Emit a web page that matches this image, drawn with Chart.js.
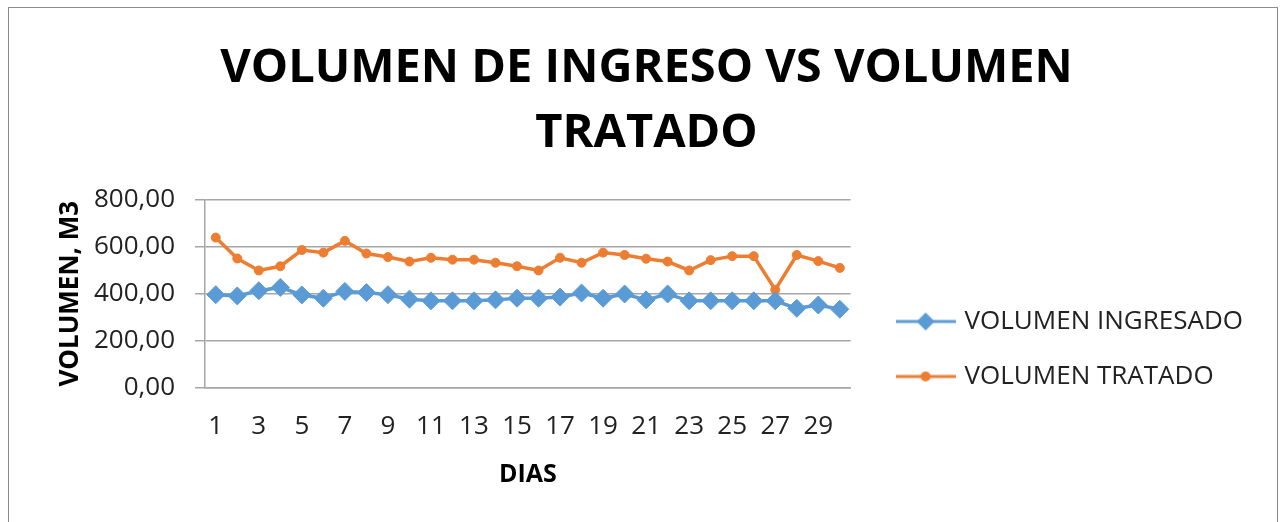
<!DOCTYPE html>
<html>
<head>
<meta charset="utf-8">
<script src="https://cdn.jsdelivr.net/npm/chart.js@4"></script>
<style>
    html, body { margin: 0; padding: 0; background: #fff; overflow: hidden; }
    #frame {
        position: absolute; left: 8px; top: 7px; width: 1268px; height: 540px;
        border: 1px solid #8c8c8c;
    }
    #wrap { position: absolute; left: 0; top: 0; width: 1286px; height: 522px; }
</style>
</head>
<body>
<div id="frame"></div>
<div id="wrap"><canvas id="chart" width="1286" height="522"></canvas></div>
<script>
const dias = ['1', '2', '3', '4', '5', '6', '7', '8', '9', '10', '11', '12', '13', '14', '15',
    '16', '17', '18', '19', '20', '21', '22', '23', '24', '25', '26', '27', '28', '29', '30'];

const ingresado = [396, 391, 413, 427, 395, 381, 410, 405, 396, 377, 370, 370, 370, 374, 381,
    381, 386, 403, 381, 399, 374, 399, 370, 370, 370, 370, 370, 338, 352, 334];

const tratado = [639, 550, 499, 517, 586, 575, 625, 571, 556, 537, 553, 545, 545, 532, 517,
    499, 553, 532, 575, 565, 549, 537, 499, 543, 560, 560, 417, 565, 539, 510];

const yTicks = ['0,00', '200,00', '400,00', '600,00', '800,00'];

const BLUE = '#5B9BD5';
const ORANGE = '#ED7D31';
const GRID = '#a6a6a6';
const FONT = "'Open Sans', sans-serif";
const LEGEND_GAP = 20;
const LEGEND_DROP = 104;

// little line + marker swatch, like the office legend
function swatch(color, shape) {
    const c = document.createElement('canvas');
    c.width = 60;
    c.height = 20;
    const g = c.getContext('2d');
    g.strokeStyle = color;
    g.lineWidth = 3;
    g.beginPath();
    g.moveTo(0, 10);
    g.lineTo(60, 10);
    g.stroke();
    g.fillStyle = color;
    g.beginPath();
    if (shape === 'diamond') {
        g.moveTo(30, 1); g.lineTo(39, 10); g.lineTo(30, 19); g.lineTo(21, 10);
    } else {
        g.arc(30, 10, 5, 0, Math.PI * 2);
    }
    g.closePath();
    g.fill();
    return c;
}
const swatches = [swatch(BLUE, 'diamond'), swatch(ORANGE, 'circle')];

// white space between plot and legend, and legend sits a bit lower
const legendGap = {
    id: 'legendGap',
    afterInit: function (chart) {
        const lg = chart.legend;
        if (!lg) return;
        const fit = lg.fit;
        const draw = lg.draw;
        lg.fit = function () {
            fit.call(this);
            this.width += LEGEND_GAP;
        };
        lg.draw = function () {
            this.left += LEGEND_GAP;
            this.top += LEGEND_DROP;
            this.bottom += LEGEND_DROP;
            draw.call(this);
            this.left -= LEGEND_GAP;
            this.top -= LEGEND_DROP;
            this.bottom -= LEGEND_DROP;
        };
    },
};

new Chart(document.getElementById('chart'), {
    type: 'line',
    data: {
        labels: dias,
        datasets: [
            {
                label: 'VOLUMEN INGRESADO',
                data: ingresado,
                borderColor: BLUE,
                backgroundColor: BLUE,
                borderWidth: 3.5,
                pointStyle: 'rectRot',
                pointRadius: 9,
                pointBorderWidth: 1,
                tension: 0,
            },
            {
                label: 'VOLUMEN TRATADO',
                data: tratado,
                borderColor: ORANGE,
                backgroundColor: ORANGE,
                borderWidth: 3.5,
                pointStyle: 'circle',
                pointRadius: 4.5,
                pointBorderWidth: 1,
                tension: 0,
            },
        ],
    },
    plugins: [legendGap],
    options: {
        responsive: false,
        animation: false,
        layout: { padding: { left: 40, right: 33, top: 0, bottom: 32 } },
        plugins: {
            title: {
                display: true,
                text: ['VOLUMEN DE INGRESO VS VOLUMEN', 'TRATADO'],
                color: '#000',
                font: { family: FONT, size: 47, weight: 'bold', lineHeight: 1.38 },
                padding: { top: 36, bottom: 34 },
            },
            legend: {
                position: 'right',
                maxWidth: 460,
                labels: {
                    usePointStyle: true,
                    pointStyleWidth: 52,
                    color: '#222',
                    font: { family: FONT, size: 26 },
                    padding: 29,
                    generateLabels: function (chart) {
                        return chart.data.datasets.map(function (ds, i) {
                            return {
                                text: ds.label,
                                pointStyle: swatches[i],
                                fillStyle: ds.borderColor,
                                strokeStyle: ds.borderColor,
                                lineWidth: 0,
                                fontColor: '#222',
                                datasetIndex: i,
                            };
                        });
                    },
                },
            },
            tooltip: { enabled: false },
        },
        scales: {
            x: {
                offset: true,
                grid: { display: false, drawTicks: false },
                border: { display: true, color: GRID, width: 1.5 },
                ticks: {
                    autoSkip: false,
                    maxRotation: 0,
                    padding: 23,
                    color: '#222',
                    font: { family: FONT, size: 26 },
                    callback: function (v, i) {
                        return i % 2 === 0 ? dias[i] : '';
                    },
                },
                title: {
                    display: true,
                    text: 'DIAS',
                    color: '#000',
                    font: { family: FONT, size: 25, weight: 'bold' },
                    padding: { top: -5, bottom: 0 },
                },
            },
            y: {
                min: 0,
                max: 800,
                afterFit: function (s) { s.width = 165; },
                grid: { color: GRID, lineWidth: 1.5, tickLength: 10 },
                border: { display: true, color: GRID, width: 1.5 },
                ticks: {
                    stepSize: 200,
                    padding: 20,
                    color: '#222',
                    font: { family: FONT, size: 26 },
                    callback: function (v) {
                        return yTicks[v / 200];
                    },
                },
                title: {
                    display: true,
                    text: 'VOLUMEN, M3',
                    color: '#000',
                    font: { family: FONT, size: 26, weight: 'bold' },
                    padding: { top: 15, bottom: 0 },
                },
            },
        },
    },
});
</script>
</body>
</html>
